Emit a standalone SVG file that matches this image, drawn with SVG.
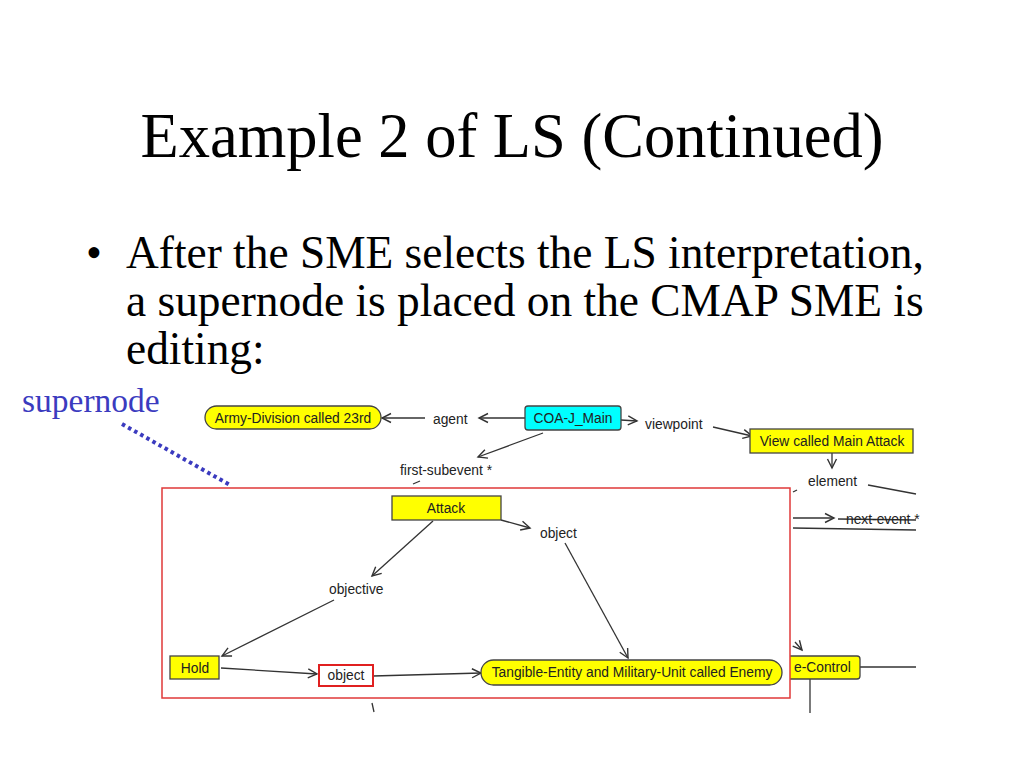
<svg xmlns="http://www.w3.org/2000/svg" width="1024" height="768" viewBox="0 0 1024 768">
<defs>
<marker id="arr" markerWidth="12" markerHeight="12" refX="10" refY="5" orient="auto" markerUnits="userSpaceOnUse" viewBox="0 0 12 10">
<path d="M1,0.5 L10,5 L1,9.5" fill="none" stroke="#333" stroke-width="1.4"/>
</marker>
<style>
.title{font-family:"Liberation Serif","Times New Roman",serif;fill:#000}
.lbl{font-family:"Liberation Sans",Arial,sans-serif;font-size:13.8px;fill:#222}
.ntxt{font-family:"Liberation Sans",Arial,sans-serif;font-size:13.8px;fill:#222;text-anchor:middle}
.yel{fill:#ffff00;stroke:#444;stroke-width:1.3}
.cy{fill:#00ffff;stroke:#444;stroke-width:1.3}
.ln{stroke:#333;stroke-width:1.3;fill:none}
.la{stroke:#333;stroke-width:1.3;fill:none;marker-end:url(#arr)}
</style>
</defs>
<rect width="1024" height="768" fill="#fff"/>
<text class="title" x="512" y="157" font-size="62.5" text-anchor="middle">Example 2 of LS (Continued)</text>
<text class="title" x="86" y="268" font-size="45.4">•</text>
<text class="title" x="126" y="268" font-size="45.4">After the SME selects the LS interpretation,</text>
<text class="title" x="126" y="316" font-size="45.4">a supernode is placed on the CMAP SME is</text>
<text class="title" x="126" y="364" font-size="45.4">editing:</text>
<text x="22" y="412" font-family="Liberation Serif,'Times New Roman',serif" font-size="33.5" fill="#3b3bbf">supernode</text>
<line x1="122" y1="424" x2="230" y2="485" stroke="#3b3bbf" stroke-width="4" stroke-dasharray="3.5 3.5"/>

<g id="connectors">
<line class="la" x1="425" y1="418" x2="382" y2="418"/>
<line class="la" x1="525" y1="418" x2="479" y2="418"/>
<line class="la" x1="621" y1="420" x2="637" y2="421"/>
<line class="la" x1="713" y1="427" x2="752" y2="436"/>
<line class="la" x1="832" y1="453" x2="832" y2="468"/>
<line class="ln" x1="868" y1="485" x2="916" y2="494"/>
<line class="ln" x1="793" y1="492" x2="797" y2="490"/>
<line class="la" x1="543" y1="433" x2="478" y2="457"/>
<line class="ln" x1="413" y1="484" x2="420" y2="481"/>
<line class="la" x1="793" y1="518" x2="834" y2="518" stroke-width="2"/>
<line class="ln" x1="838" y1="519" x2="916" y2="520"/>
<line class="ln" x1="793" y1="528" x2="916" y2="530"/>
<line class="ln" x1="372" y1="703" x2="374" y2="712"/>
<line class="la" x1="795" y1="642" x2="802" y2="650"/>
<line class="ln" x1="860" y1="667" x2="916" y2="667"/>
<line class="ln" x1="810" y1="679" x2="810" y2="713"/>
</g>

<g id="n-ecctrl">
<path class="yel" d="M790,656 H857 Q860,656 860,659 V676 Q860,679 857,679 H790"/>
<text class="lbl" x="794" y="672">e-Control</text>
</g>

<g id="supernode">
<rect x="162" y="488" width="628" height="210" fill="#fff" stroke="#e03838" stroke-width="1.5"/>
<g id="sn-connectors">
<line class="la" x1="501" y1="520" x2="530" y2="528"/>
<line class="la" x1="565" y1="543" x2="628" y2="658"/>
<line class="la" x1="433" y1="521" x2="372" y2="576"/>
<line class="la" x1="334" y1="600" x2="222" y2="656"/>
<line class="la" x1="221" y1="668" x2="317" y2="674"/>
<line class="la" x1="373" y1="676" x2="481" y2="673"/>
</g>
<g id="n-attack">
<rect class="yel" x="392" y="496" width="109" height="24"/>
<text class="ntxt" x="446" y="513">Attack</text>
</g>
<g id="l-object1"><text class="lbl" x="540" y="538">object</text></g>
<g id="l-objective"><text class="lbl" x="329" y="594">objective</text></g>
<g id="n-hold">
<rect class="yel" x="170" y="656" width="49" height="23"/>
<text class="ntxt" x="195" y="673">Hold</text>
</g>
<g id="n-object2">
<rect x="319" y="665" width="54" height="21" fill="#fff" stroke="#e02020" stroke-width="2"/>
<text class="ntxt" x="346" y="680">object</text>
</g>
<g id="n-enemy">
<rect class="yel" x="481" y="660" width="301" height="25" rx="12.5"/>
<text class="ntxt" x="632" y="677">Tangible-Entity and Military-Unit called Enemy</text>
</g>
</g>

<g id="n-army">
<rect class="yel" x="205" y="406" width="176" height="23" rx="11.5"/>
<text class="ntxt" x="293" y="423">Army-Division called 23rd</text>
</g>
<g id="l-agent"><text class="lbl" x="433" y="424">agent</text></g>
<g id="n-coa">
<rect class="cy" x="525" y="406" width="96" height="24" rx="3"/>
<text class="ntxt" x="573" y="423">COA-J_Main</text>
</g>
<g id="l-viewpoint"><text class="lbl" x="645" y="429">viewpoint</text></g>
<g id="n-view">
<rect class="yel" x="750" y="429" width="163" height="24"/>
<text class="ntxt" x="832" y="446">View called Main Attack</text>
</g>
<g id="l-element"><text class="lbl" x="808" y="486">element</text></g>
<g id="l-first"><text class="lbl" x="400" y="475">first-subevent *</text></g>
<g id="l-next"><text class="lbl" x="846" y="524">next-event *</text></g>
</svg>
